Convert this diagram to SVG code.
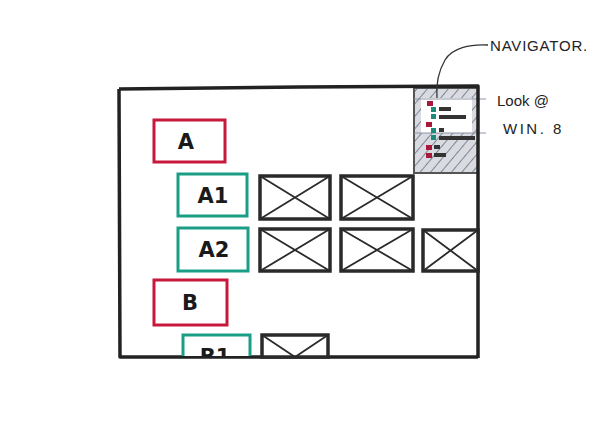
<svg xmlns="http://www.w3.org/2000/svg" width="600" height="432" viewBox="0 0 600 432">
<style>
.frame{fill:none;stroke:#222;stroke-width:3.5;stroke-linejoin:round}
.red{fill:#fff;stroke:#c8193c;stroke-width:3}
.teal{fill:#fff;stroke:#1a9e86;stroke-width:3}
.img{fill:#fff;stroke:#2a2a2a;stroke-width:3.5}
.x{stroke:#2a2a2a;stroke-width:1.8}
.lbl{font-family:"DejaVu Sans","Liberation Sans",sans-serif;font-size:21px;font-weight:bold;fill:#1a1a1a;text-anchor:middle}
.note{font-family:"Liberation Sans",sans-serif;font-size:15px;fill:#222}
.r{fill:#a8183a}.t{fill:#1e8a78}.d{fill:#333}
</style>
<defs>
<pattern id="hatch" width="8" height="8" patternUnits="userSpaceOnUse" patternTransform="rotate(40)">
<rect width="8" height="8" fill="#d9dbe0"/>
<line x1="0" y1="0" x2="0" y2="8" stroke="#7d8596" stroke-width="2"/>
</pattern>
<clipPath id="inframe"><rect x="120" y="86" width="358" height="270"/></clipPath>
</defs>

<g id="navigator">
<rect x="414" y="88" width="64" height="85" fill="url(#hatch)" stroke="#555" stroke-width="2"/>
<rect x="421" y="98" width="51" height="35" fill="#fff"/>
<line x1="414" y1="99" x2="486" y2="99" stroke="#8a93a6" stroke-width="1"/>
<line x1="414" y1="133" x2="486" y2="133" stroke="#8a93a6" stroke-width="1"/>
<rect class="r" x="427" y="101" width="6" height="5"/>
<rect class="t" x="431" y="107" width="5" height="5"/><rect class="d" x="439" y="107" width="12" height="4"/>
<rect class="t" x="431" y="114" width="5" height="5"/><rect class="d" x="439" y="115" width="27" height="4"/>
<rect class="r" x="426" y="122" width="6" height="5"/>
<rect class="t" x="431" y="128" width="5" height="5"/><rect class="d" x="439" y="128" width="5" height="4"/>
<rect class="t" x="431" y="135" width="5" height="5"/><rect class="d" x="439" y="136" width="36" height="4"/>
<rect class="r" x="426" y="145" width="6" height="5"/><rect class="d" x="434" y="145" width="6" height="4"/>
<rect class="r" x="426" y="153" width="6" height="5"/><rect class="d" x="434" y="153" width="12" height="4"/>
</g>

<g id="frame">
<path class="frame" d="M119,89 L300,87 L478,86 L478,358 M119,89 L120,357 L300,357 L478,357"/>
</g>

<g id="node-A"><rect class="red" x="154" y="120" width="71" height="42"/><text class="lbl" x="186" y="149">A</text></g>
<g id="node-A1"><rect class="teal" x="178" y="174" width="69" height="42"/><text class="lbl" x="213" y="203">A1</text></g>
<g id="node-A2"><rect class="teal" x="178" y="228" width="70" height="43"/><text class="lbl" x="214" y="257">A2</text></g>
<g id="node-B"><rect class="red" x="154" y="280" width="73" height="45"/><text class="lbl" x="190" y="310">B</text></g>
<g id="node-B1" clip-path="url(#inframe)"><rect class="teal" x="183" y="335" width="67" height="30"/><text class="lbl" x="215" y="364">B1</text></g>

<g id="img1"><rect class="img" x="260" y="176" width="70" height="43"/><path class="x" d="M260,176 L330,219 M330,176 L260,219"/></g>
<g id="img2"><rect class="img" x="341" y="176" width="72" height="43"/><path class="x" d="M341,176 L413,219 M413,176 L341,219"/></g>
<g id="img3"><rect class="img" x="260" y="229" width="70" height="42"/><path class="x" d="M260,229 L330,271 M330,229 L260,271"/></g>
<g id="img4"><rect class="img" x="341" y="229" width="72" height="42"/><path class="x" d="M341,229 L413,271 M413,229 L341,271"/></g>
<g id="img5"><rect class="img" x="423" y="230" width="55" height="41"/><path class="x" d="M423,230 L478,271 M478,230 L423,271"/></g>
<g id="img6"><rect class="img" x="262" y="335" width="66" height="22"/><path class="x" d="M262,335 L295,357 M328,335 L295,357"/></g>

<g id="connectors">
<path d="M488,45 C470,44 452,48 445,60 C438,72 436,85 437,98" fill="none" stroke="#333" stroke-width="1.3"/>
</g>

<g id="notes">
<text class="note" x="490" y="51" letter-spacing="0.8">NAVIGATOR.</text>
<text class="note" x="497" y="106">Look @</text>
<text class="note" x="503" y="134" letter-spacing="2.5">WIN. 8</text>
</g>
</svg>
